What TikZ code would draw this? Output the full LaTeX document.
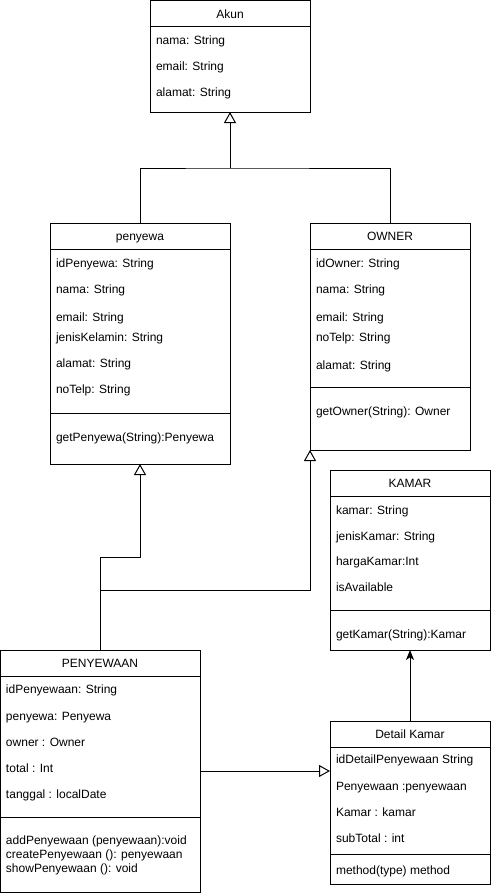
\documentclass[tikz,border=0pt]{standalone}
\usepackage{fontspec}
\setmainfont{Liberation Sans}
\usetikzlibrary{arrows.meta,fit}
\begin{document}
\begin{tikzpicture}[x=0.75pt,y=-0.75pt, line width=0.75pt,
  cls/.style={draw, inner sep=0pt, outer sep=0pt},
  fld/.style={anchor=base west, inner sep=0pt, font=\fontsize{9}{11}\selectfont},
  ttl/.style={anchor=base, inner sep=0pt, font=\fontsize{9}{11}\selectfont},
  inh/.style={-{Triangle[open,length=8.25pt,width=9pt]}},
  asc/.style={-{Stealth[length=7.5pt,width=6pt,inset=2pt]}}]
\useasboundingbox (0,0) rectangle (491,896);

% ---------- Akun ----------
\node[cls, fit={(150,0.5) (310,112)}] (akun) {};
\draw (150,26) -- (310,26);
\node[ttl] (akunT) at (230,18) {Akun};
\node[fld] (akun1) at (155.5,44) {nama: String};
\node[fld] (akun2) at (155.5,70) {email: String};
\node[fld] (akun3) at (155.5,96) {alamat: String};

% ---------- penyewa ----------
\node[cls, fit={(50,223) (230,464)}] (penyewa) {};
\draw (50,249) -- (230,249);
\draw (50,413) -- (230,413);
\node[ttl] (penyewaT) at (140,240) {penyewa};
\node[fld] (penyewa1) at (55.5,267) {idPenyewa: String};
\node[fld] (penyewa2) at (55.5,293) {nama: String};
\node[fld] (penyewa3) at (55.5,321) {email: String};
\node[fld] (penyewa4) at (55.5,341) {jenisKelamin: String};
\node[fld] (penyewa5) at (55.5,367) {alamat: String};
\node[fld] (penyewa6) at (55.5,393) {noTelp: String};
\node[fld] (penyewaM) at (55.5,441) {getPenyewa(String):Penyewa};

% ---------- OWNER ----------
\node[cls, fit={(310,223) (470,450)}] (owner) {};
\draw (310,249) -- (470,249);
\draw (310,387) -- (470,387);
\node[ttl] (ownerT) at (390,240) {OWNER};
\node[fld] (owner1) at (315.5,267) {idOwner: String};
\node[fld] (owner2) at (315.5,293) {nama: String};
\node[fld] (owner3) at (315.5,321) {email: String};
\node[fld] (owner4) at (315.5,341) {noTelp: String};
\node[fld] (owner5) at (315.5,369) {alamat: String};
\node[fld] (ownerM) at (315.5,415) {getOwner(String): Owner};

% ---------- KAMAR ----------
\node[cls, fit={(330,470) (490,650)}] (kamar) {};
\draw (330,496) -- (490,496);
\draw (330,610) -- (490,610);
\node[ttl] (kamarT) at (410,487.5) {KAMAR};
\node[fld] (kamar1) at (335.5,514) {kamar: String};
\node[fld] (kamar2) at (335.5,540) {jenisKamar: String};
\node[fld] (kamar3) at (335.5,565) {hargaKamar:Int};
\node[fld] (kamar4) at (335.5,591) {isAvailable};
\node[fld] (kamarM) at (335.5,638) {getKamar(String):Kamar};

% ---------- PENYEWAAN ----------
\node[cls, fit={(0.5,650) (200,892)}] (penyewaan) {};
\draw (0.5,676) -- (200,676);
\draw (0.5,817) -- (200,817);
\node[ttl] (penyewaanT) at (100,667) {PENYEWAAN};
\node[fld] (penyewaan1) at (5.5,693) {idPenyewaan: String};
\node[fld] (penyewaan2) at (5.5,720) {penyewa: Penyewa};
\node[fld] (penyewaan3) at (5.5,746) {owner : Owner};
\node[fld] (penyewaan4) at (5.5,772) {total : Int};
\node[fld] (penyewaan5) at (5.5,798) {tanggal : localDate};
\node[fld] (penyewaanM1) at (5.5,844) {addPenyewaan (penyewaan):void};
\node[fld] (penyewaanM2) at (5.5,858) {createPenyewaan (): penyewaan};
\node[fld] (penyewaanM3) at (5.5,872) {showPenyewaan (): void};

% ---------- Detail Kamar ----------
\node[cls, fit={(330,721) (490,884)}] (detail) {};
\draw (330,747) -- (490,747);
\draw (330,854) -- (490,854);
\node[ttl] (detailT) at (410,738) {Detail Kamar};
\node[fld] (detail1) at (335.5,763) {idDetailPenyewaan String};
\node[fld] (detail2) at (335.5,790) {Penyewaan :penyewaan};
\node[fld] (detail3) at (335.5,816) {Kamar : kamar};
\node[fld] (detail4) at (335.5,842) {subTotal : int};
\node[fld] (detailM) at (335.5,874) {method(type) method};

% ---------- connectors ----------
\coordinate (j1) at (230,168);
\draw (penyewa.north) |- (j1) -| (owner.north);
\draw[inh] (j1) -- (akun.south);

\coordinate (k1) at (140,557);
\draw[inh] (penyewaan.north) |- (k1) -- (penyewa.south);

\coordinate (k2) at (100,590);
\draw[inh] (k2) -| (owner.south west);

\coordinate (k3) at (200,771);
\draw[inh] (k3) -- (detail.west |- k3);

\draw[asc] (detail.north) -- (kamar.south);
\end{tikzpicture}
\end{document}
